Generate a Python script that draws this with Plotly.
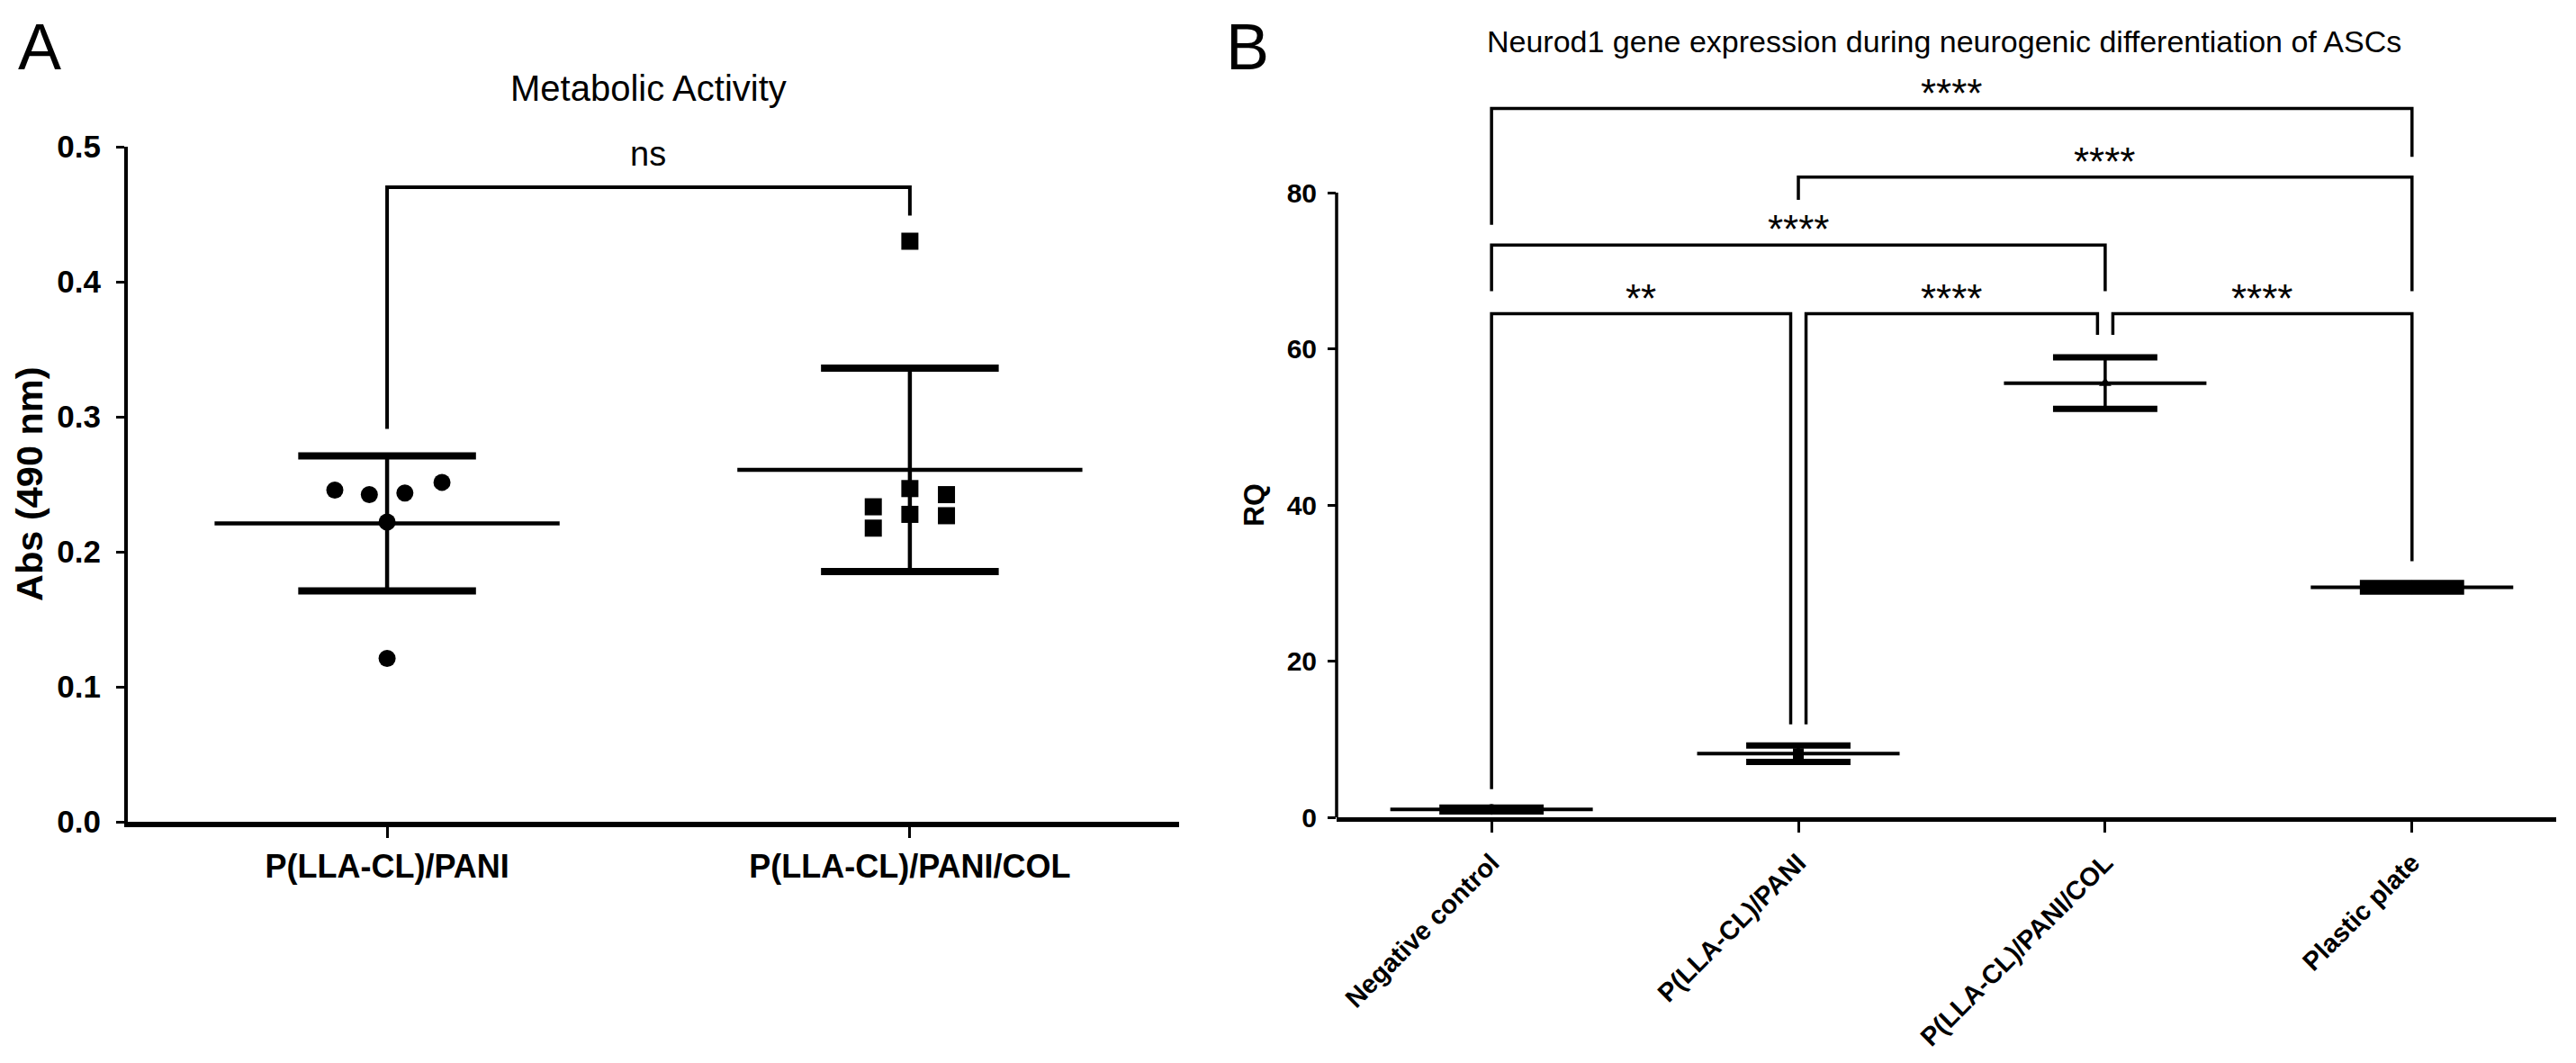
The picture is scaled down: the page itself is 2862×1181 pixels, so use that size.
import numpy as np
import plotly.graph_objects as go

# the page body adds an 8 px margin, so the figure is drawn 8 px smaller
W, H = 2846, 1165
FONT = "Liberation Sans, Arial, sans-serif"

# ---------------- data: panel A ----------------
A_title = "Metabolic Activity"
A_ytitle = "Abs (490 nm)"
A_categories = ["P(LLA-CL)/PANI", "P(LLA-CL)/PANI/COL"]
A_pani = [0.2457, 0.2423, 0.2435, 0.2514, 0.2220, 0.1210]
A_pani_col = [0.4300, 0.2468, 0.2423, 0.2333, 0.2277, 0.2267, 0.2175]
A_pani_jitter = [-0.10, -0.034, 0.034, 0.105, 0.0, 0.0]
A_pani_col_jitter = [0.0, 0.0, 0.07, -0.07, 0.0, 0.07, -0.07]
A_yticks = [0.0, 0.1, 0.2, 0.3, 0.4, 0.5]
A_sig_label = "ns"
A_bracket_y = 0.47
A_leg_bottom = (0.291, 0.449)

# ---------------- data: panel B ----------------
B_title = "Neurod1 gene expression during neurogenic differentiation of ASCs"
B_ytitle = "RQ"
B_categories = ["Negative control", "P(LLA-CL)/PANI", "P(LLA-CL)/PANI/COL", "Plastic plate"]
B_mean = [1.0, 8.15, 55.6, 29.45]
B_sd = [0.25, 1.05, 3.3, 0.55]
B_symbols = ["circle", "square", "triangle-up", "diamond"]
B_yticks = [0, 20, 40, 60, 80]
B_pairs = [(0, 3), (1, 3), (0, 2), (0, 1), (1, 2), (2, 3)]
B_labels = ["****", "****", "****", "**", "****", "****"]
B_bracket_y = [90.8, 82.0, 73.3, 64.5, 64.5, 64.5]
B_leg_bottom = [(75.9, 84.6), (79.1, 67.4), (67.4, 67.4), (3.6, 11.9), (11.9, 61.8), (61.8, 32.8)]
B_leg_nudge = [(0, 0), (0, 0), (0, 0), (0, -1), (1, -1), (1, 0)]

fig = go.Figure()


def add_line(xs, ys, width, xa, ya):
    fig.add_trace(go.Scatter(x=xs, y=ys, mode="lines", hoverinfo="skip",
                             line=dict(color="black", width=width),
                             xaxis=xa, yaxis=ya))


def add_mean_sd(xc, mean, sd, xa, ya, mean_w=4, cap_w=7, v_w=4):
    mh, ch = 0.33, 0.17
    add_line([xc, xc], [mean - sd, mean + sd], v_w, xa, ya)
    add_line([xc - mh, xc + mh], [mean, mean], mean_w, xa, ya)
    add_line([xc - ch, xc + ch, None, xc - ch, xc + ch],
             [mean + sd, mean + sd, None, mean - sd, mean - sd], cap_w, xa, ya)


def add_bracket(x0, x1, y, b0, b1, width, xa, ya):
    add_line([x0, x0, x1, x1], [b0, y, y, b1], width, xa, ya)


# ---------------- panel A ----------------
fig.add_trace(go.Scatter(x=[0 + j for j in A_pani_jitter], y=A_pani, mode="markers",
                         marker=dict(symbol="circle", size=19, color="black"),
                         xaxis="x", yaxis="y"))
fig.add_trace(go.Scatter(x=[1 + j for j in A_pani_col_jitter], y=A_pani_col, mode="markers",
                         marker=dict(symbol="square", size=19, color="black"),
                         xaxis="x", yaxis="y"))
for i, vals in enumerate([A_pani, A_pani_col]):
    add_mean_sd(i, float(np.mean(vals)), float(np.std(vals, ddof=1)), "x", "y",
                mean_w=4.5, cap_w=8, v_w=4.5)
add_bracket(0, 1, A_bracket_y, A_leg_bottom[0], A_leg_bottom[1], 4, "x", "y")

# ---------------- panel B ----------------
for i, (m, s) in enumerate(zip(B_mean, B_sd)):
    fig.add_trace(go.Scatter(x=[i], y=[m], mode="markers",
                             marker=dict(symbol=B_symbols[i], size=12, color="black"),
                             xaxis="x2", yaxis="y2"))
    add_mean_sd(i, m, s, "x2", "y2", mean_w=4, cap_w=7, v_w=3.5)

nud = 0.025
for (a, b), lab, y, (b0, b1), (n0, n1) in zip(B_pairs, B_labels, B_bracket_y, B_leg_bottom, B_leg_nudge):
    x0, x1 = a + n0 * nud, b + n1 * nud
    add_bracket(x0, x1, y, b0, b1, 3.5, "x2", "y2")
    fig.add_annotation(x=(x0 + x1) / 2, y=y + 2.0, xref="x2", yref="y2", text=lab,
                       showarrow=False, font=dict(size=44, color="black"),
                       xanchor="center", yanchor="middle")

# A significance label
fig.add_annotation(x=0.5, y=0.495, xref="x", yref="y", text=A_sig_label, showarrow=False,
                   font=dict(size=38, color="black"), xanchor="center", yanchor="middle")

# y axis line of panel B (stops at 80)
fig.add_shape(type="line", xref="x2 domain", yref="y2", x0=0, x1=0, y0=0, y1=B_yticks[-1],
              line=dict(color="black", width=3.5))

# panel letters (anchored by their top edge so they stay inside the figure)
for t, px in [("A", 36), ("B", 1378)]:
    fig.add_annotation(x=px / W, y=1 - 2 / H, xref="paper", yref="paper", text=t,
                       showarrow=False, font=dict(size=72, color="black"),
                       xanchor="center", yanchor="top")

# titles (figure pixels)
texts = [
    (A_title, 712, 90, 40, None, 0),
    (B_title, 2152, 38, 34, None, 0),
    (A_ytitle, 24, 530, 41.5, "bold", -90),
    (B_ytitle, 1385, 553, 32, "bold", -90),
]
for t, px, py, sz, wt, ang in texts:
    f = dict(size=sz, color="black")
    if wt:
        f["weight"] = wt
    fig.add_annotation(x=px / W, y=1 - py / H, xref="paper", yref="paper", text=t,
                       showarrow=False, font=f, xanchor="center", yanchor="middle",
                       textangle=ang)

common = dict(showgrid=False, zeroline=False, linecolor="black", ticks="outside",
              tickcolor="black", fixedrange=True, automargin=False)
fig.update_layout(
    template="none",
    width=W, height=H, margin=dict(l=0, r=0, t=0, b=0, autoexpand=False),
    paper_bgcolor="white", plot_bgcolor="white", showlegend=False,
    font=dict(family=FONT, color="black"),
    xaxis=dict(domain=[134 / W, 1302 / W], range=[-0.496, 1.515], tickvals=[0, 1],
               ticktext=A_categories, showline=True, linewidth=6, ticklen=12, tickwidth=3,
               tickfont=dict(size=36, weight="bold"), ticklabelstandoff=1, anchor="y", **common),
    yaxis=dict(domain=[1 - 905 / H, 1 - 155 / H], range=[0, 0.5], tickvals=A_yticks,
               tickformat=".1f", showline=True, linewidth=4, ticklen=9, tickwidth=3,
               tickfont=dict(size=35, weight="bold"), ticklabelstandoff=10, anchor="x", **common),
    xaxis2=dict(domain=[1477 / W, 2832 / W], range=[-0.505, 3.47], tickvals=[0, 1, 2, 3],
                ticktext=B_categories, tickangle=-45, showline=True, linewidth=5, ticklen=12,
                tickwidth=3, tickfont=dict(size=29, weight="bold"), ticklabelstandoff=5,
                anchor="y2", **common),
    yaxis2=dict(domain=[1 - 900 / H, 1 - 76 / H], range=[0, 95], tickvals=B_yticks,
                showline=False, ticklen=9, tickwidth=3, tickfont=dict(size=30, weight="bold"),
                ticklabelstandoff=6, anchor="x2", **common),
)

fig.write_html("out.html")
